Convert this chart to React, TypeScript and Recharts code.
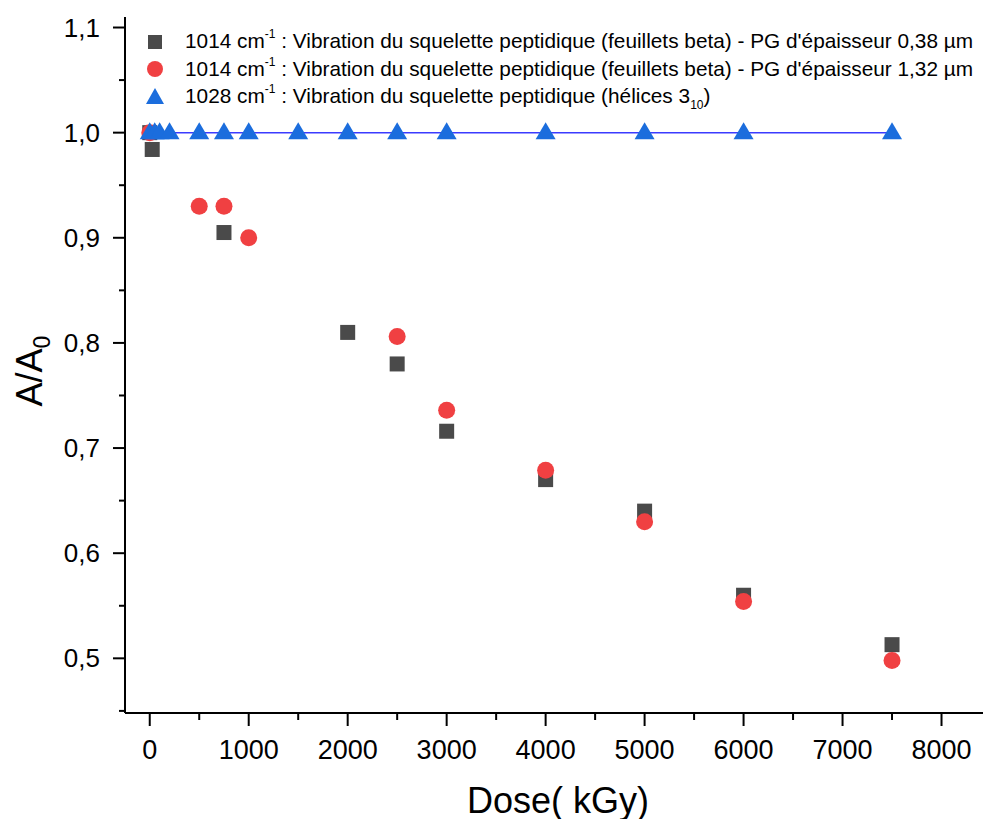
import React from 'react';
import { ScatterChart, Scatter, XAxis, YAxis } from 'recharts';

// Dose (kGy) and A/A0 values
const squareDose = [0, 25, 750, 2000, 2500, 3000, 4000, 5000, 6000, 7500];
const squareRatio = [1.0, 0.984, 0.905, 0.81, 0.78, 0.716, 0.67, 0.64, 0.56, 0.513];

const circleDose = [0, 500, 750, 1000, 2500, 3000, 4000, 5000, 6000, 7500];
const circleRatio = [1.0, 0.93, 0.93, 0.9, 0.806, 0.736, 0.679, 0.63, 0.554, 0.498];

const triangleDose = [0, 50, 100, 200, 500, 750, 1000, 1500, 2000, 2500, 3000, 4000, 5000, 6000, 7500];
const triangleRatio = [1, 1, 1, 1, 1, 1, 1, 1, 1, 1, 1, 1, 1, 1, 1];

const xTicks = [0, 500, 1000, 1500, 2000, 2500, 3000, 3500, 4000, 4500, 5000, 5500, 6000, 6500, 7000, 7500, 8000, 8500];
const yTicks = [0.45, 0.5, 0.55, 0.6, 0.65, 0.7, 0.75, 0.8, 0.85, 0.9, 0.95, 1.0, 1.05, 1.1];

const xDomain = [-250, 8500];
const yDomain = [0.448, 1.11];

const toPoints = (xs: number[], ys: number[]) => xs.map((x, i) => ({ x, y: ys[i] }));
const squares = toPoints(squareDose, squareRatio);
const circles = toPoints(circleDose, circleRatio);
const triangles = toPoints(triangleDose, triangleRatio);

const FONT = '"Liberation Sans", Arial, sans-serif';
const SQ = '#4a4a4a';
const RED = '#f04042';
const BLUE = '#1b6ddd';
const LINE = '#3b3bff';

const XTick = (props: any) => {
  const { x, y, payload } = props;
  const v = payload.value;
  const major = v % 1000 === 0;
  return (
    <g>
      <line x1={x} x2={x} y1={y} y2={y + (major ? 13 : 7)} stroke="#000" strokeWidth={2} />
      {major && (
        <text x={x} y={y + 46} textAnchor="middle" fontSize={27} fontFamily={FONT} fill="#000">
          {v}
        </text>
      )}
    </g>
  );
};

const YTick = (props: any) => {
  const { x, y, payload } = props;
  const v = payload.value;
  const major = Math.abs(v * 10 - Math.round(v * 10)) < 1e-6;
  return (
    <g>
      <line x1={x} x2={x - (major ? 12 : 6)} y1={y} y2={y} stroke="#000" strokeWidth={2} />
      {major && (
        <text x={x - 25} y={y + 9} textAnchor="end" fontSize={26} fontFamily={FONT} fill="#000">
          {v.toFixed(1).replace('.', ',')}
        </text>
      )}
    </g>
  );
};

const SquareShape = (p: any) => <rect x={p.cx - 7.5} y={p.cy - 7.5} width={15} height={15} fill={SQ} />;
const CircleShape = (p: any) => <circle cx={p.cx} cy={p.cy} r={8.5} fill={RED} />;
const TriangleShape = (p: any) => (
  <polygon points={`${p.cx},${p.cy - 10.5} ${p.cx - 10},${p.cy + 6.5} ${p.cx + 10},${p.cy + 6.5}`} fill={BLUE} />
);

const legendRows = [
  { kind: 'square', pre: '1014 cm', sup: '-1', text: ' : Vibration du squelette peptidique (feuillets beta) - PG d\'épaisseur 0,38 µm', sub: '', post: '' },
  { kind: 'circle', pre: '1014 cm', sup: '-1', text: ' : Vibration du squelette peptidique (feuillets beta) - PG d\'épaisseur 1,32 µm', sub: '', post: '' },
  { kind: 'triangle', pre: '1028 cm', sup: '-1', text: ' : Vibration du squelette peptidique (hélices 3', sub: '10', post: ')' },
];

const LegendMarker = ({ kind }: { kind: string }) => (
  <svg width={20} height={20} style={{ display: 'block' }}>
    {kind === 'square' && <rect x={3} y={3} width={14} height={14} fill={SQ} />}
    {kind === 'circle' && <circle cx={10} cy={10} r={8} fill={RED} />}
    {kind === 'triangle' && <polygon points="10,1 1,17 19,17" fill={BLUE} />}
  </svg>
);

const LegendBox = () => (
  <div style={{ position: 'absolute', left: 145, top: 28, fontFamily: FONT, fontSize: 20.8, color: '#000', lineHeight: 1 }}>
    {legendRows.map((r, i) => (
      <div key={i} style={{ display: 'flex', alignItems: 'center', height: 27.5, whiteSpace: 'nowrap' }}>
        <LegendMarker kind={r.kind} />
        <span style={{ marginLeft: 20 }}>
          {r.pre}
          <sup style={{ fontSize: 12, verticalAlign: 'top', position: 'relative', top: -3 }}>{r.sup}</sup>
          {r.text}
          {r.sub && <sub style={{ fontSize: 12, verticalAlign: 'bottom', position: 'relative', top: 4 }}>{r.sub}</sub>}
          {r.post}
        </span>
      </div>
    ))}
  </div>
);

const XLabel = (props: any) => {
  const { viewBox } = props;
  return (
    <text x={viewBox.x + viewBox.width / 2} y={viewBox.y + 100} textAnchor="middle" fontSize={36} fontFamily={FONT} fill="#000">
      Dose( kGy)
    </text>
  );
};

const YLabel = () => {
  const cx = 30;
  const cy = 371;
  return (
    <text transform={`translate(${cx + 12},${cy}) rotate(-90)`} textAnchor="middle" fontSize={36} fontFamily={FONT} fill="#000">
      A/A<tspan fontSize={23} dy={8}>0</tspan>
    </text>
  );
};

export default function App() {
  return (
    <div style={{ position: 'absolute', left: 0, top: 0, width: 983, height: 819, overflow: 'hidden', background: '#fff' }}>
      <ScatterChart width={991} height={819} margin={{ top: 17, right: 0, bottom: 46, left: 0 }}>
        <XAxis
          type="number"
          dataKey="x"
          domain={xDomain}
          ticks={xTicks}
          interval={0}
          allowDataOverflow
          tickLine={false}
          tickSize={0}
          tickMargin={0}
          tick={<XTick />}
          height={60}
          axisLine={{ stroke: '#000', strokeWidth: 2 }}
          label={<XLabel />}
        />
        <YAxis
          type="number"
          dataKey="y"
          domain={yDomain}
          ticks={yTicks}
          interval={0}
          allowDataOverflow
          tickLine={false}
          tickSize={0}
          tickMargin={0}
          tick={<YTick />}
          width={125}
          axisLine={{ stroke: '#000', strokeWidth: 2 }}
          label={<YLabel />}
        />
        <Scatter name="sq" data={squares} shape={SquareShape} isAnimationActive={false} />
        <Scatter name="ci" data={circles} shape={CircleShape} isAnimationActive={false} />
        <Scatter
          name="tr"
          data={triangles}
          shape={TriangleShape}
          line={{ stroke: LINE, strokeWidth: 1.5 }}
          lineType="joint"
          isAnimationActive={false}
        />
      </ScatterChart>
      <LegendBox />
    </div>
  );
}
